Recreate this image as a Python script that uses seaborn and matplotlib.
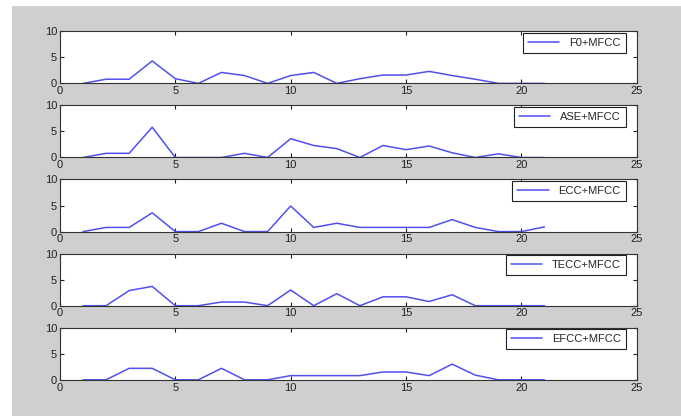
import matplotlib
matplotlib.use('Agg')
import matplotlib.pyplot as plt
import seaborn as sns
import pandas as pd
from matplotlib.patches import Rectangle

# frame index 1..21
frames = list(range(1, 22))

f0_mfcc = [0, 0.8, 0.8, 4.3, 0.9, 0, 2.1, 1.5, 0, 1.5, 2.1, 0, 0.9, 1.6, 1.6, 2.3, 1.5, 0.8, 0, 0, 0]
ase_mfcc = [0, 0.8, 0.8, 5.8, 0, 0, 0, 0.8, 0, 3.6, 2.3, 1.7, 0, 2.3, 1.5, 2.2, 0.9, 0, 0.7, 0, 0]
ecc_mfcc = [0, 0.8, 0.8, 3.6, 0, 0, 1.6, 0, 0, 4.9, 0.8, 1.6, 0.8, 0.8, 0.8, 0.8, 2.3, 0.8, 0, 0, 0.9]
tecc_mfcc = [0, 0, 2.9, 3.7, 0, 0, 0.7, 0.7, 0, 3.0, 0, 2.3, 0, 1.7, 1.7, 0.8, 2.1, 0, 0, 0, 0]
efcc_mfcc = [0, 0, 2.2, 2.2, 0, 0, 2.2, 0, 0, 0.8, 0.8, 0.8, 0.8, 1.5, 1.5, 0.8, 3.0, 0.9, 0, 0, 0]

series = {'F0+MFCC': f0_mfcc, 'ASE+MFCC': ase_mfcc, 'ECC+MFCC': ecc_mfcc,
          'TECC+MFCC': tecc_mfcc, 'EFCC+MFCC': efcc_mfcc}

sns.set_style('ticks')
plt.rcParams['font.family'] = ['Liberation Sans', 'DejaVu Sans']

fig, axes = plt.subplots(5, 1, figsize=(6.81, 4.16), dpi=100)
fig.patch.set_facecolor('white')
# matlab-like grey figure area
fig.patches.append(Rectangle((12 / 681, 0), 1 - 12 / 681, 1 - 6 / 416, transform=fig.transFigure,
                             facecolor='#cfcfcf', edgecolor='none', zorder=-10))
fig.subplots_adjust(left=0.088, right=0.935, top=0.925, bottom=0.087, hspace=0.42)

for ax, (name, vals) in zip(axes, series.items()):
    df = pd.DataFrame({'x': frames, 'y': vals})
    sns.lineplot(data=df, x='x', y='y', ax=ax, color='#5050ee', linewidth=1.1, label=name)
    ax.set_xlim(0, 25)
    ax.set_ylim(0, 10)
    ax.set_xticks([0, 5, 10, 15, 20, 25])
    ax.set_yticks([0, 5, 10])
    ax.set_xlabel('')
    ax.set_ylabel('')
    ax.set_facecolor('white')
    ax.tick_params(direction='in', top=True, right=True, labelsize=8, length=3,
                   width=0.8, colors='#222222', pad=2)
    for s in ax.spines.values():
        s.set_visible(True)
        s.set_color('#333333')
        s.set_linewidth(0.8)
    leg = ax.legend(loc='upper right', bbox_to_anchor=(0.981, 0.975), borderaxespad=0,
                    fontsize=8, handlelength=2.8, handletextpad=0.9, borderpad=0.45,
                    fancybox=False, framealpha=1, edgecolor='#222222')
    leg.get_frame().set_linewidth(0.8)

fig.savefig('out.png', dpi=100)
